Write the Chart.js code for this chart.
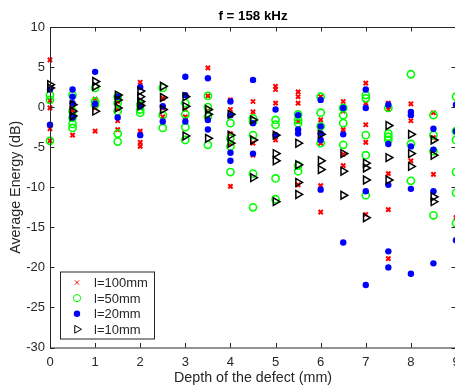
<!DOCTYPE html>
<html>
<head>
<meta charset="utf-8">
<script src="https://cdn.jsdelivr.net/npm/chart.js@4.4.1/dist/chart.umd.min.js"></script>
<style>
  html, body { margin: 0; padding: 0; background: #fff; overflow: hidden; }
  #wrap { width: 470px; height: 390px; }
</style>
</head>
<body>
<div id="wrap"><canvas id="chart" width="470" height="390"></canvas></div>
<script>
// depth of the defect (mm), one column of measurements per depth
const depths = [0, 0.5, 1, 1.5, 2, 2.5, 3, 3.5, 4, 4.5, 5, 5.5, 6, 6.5, 7, 7.5, 8, 8.5, 9];

// average energy (dB) read per depth, for each defect length
const l100 = [
    [5.9, 2.2, 0.8, -0.1, -2.7, -4.2], [2.2, 0.3, -0.4, -3.5], [1.0, -0.1, -3.0], [0.7, -0.2, -1.7, -2.8],
    [3.1, -0.1, -3.0, -4.4, -4.9], [1.1, -0.1, -1.2], [-0.3, -1.2], [4.9, 1.4, -0.5],
    [0.9, -0.3, -3.3, -4.5, -9.9], [0.7, -0.6, -4.5, -6.0], [2.6, 2.2, 0.5, -4.1], [1.9, 1.3, 0.5, -1.8, -9.7],
    [1.3, -1.6, -4.5, -9.8, -13.1], [0.7, -0.5, -2.8, -5.9, -7.3], [3.0, 0.5, -2.2, -4.4, -13.4],
    [0.5, -0.3, -8.3, -12.8, -18.9], [0.4, -1.7, -6.7], [-0.7, -3.8, -8.4], [-13.8]
];
const l50 = [
    [1.5, 0.9, -4.2], [1.5, -0.5, -1.3, -2.1, -2.6], [2.4, 0.7, 0.3], [1.3, 0.5, -0.5, -3.3, -4.3],
    [0.3, -0.3, -0.7], [2.4, -1.0, -2.6], [0.5, -0.9, -2.5, -4.1], [1.4, 0.0, -1.2, -4.7],
    [-2.0, -3.9, -4.9, -8.1], [-1.4, -1.8, -3.5, -8.3, -12.5], [-1.6, -2.2, -8.9, -11.5], [-0.9, -1.6, -2.0, -7.3, -8.0],
    [1.3, -0.7, -2.4, -4.5], [-0.1, -1.0, -2.0, -4.7], [1.5, 1.1, -3.5, -6.0, -11.0],
    [-0.1, -3.3, -3.7, -4.1], [4.1, -4.6, -9.2], [-1.0, -3.5, -5.5, -13.5], [1.3, -3.0, -4.1, -8.1, -10.7, -14.5]
];
const l20 = [
    [2.2, -2.2], [2.2, 1.3, 0.5, -1.3], [4.4, 0.4], [1.3, -1.3],
    [2.5, 0.1, -3.5], [0.1, -1.8], [3.8, 1.5, -1.8], [3.6, -1.6, -2.8],
    [0.7, -1.0, -5.7, -6.7], [3.4, -2.0, -5.8], [-0.3, -3.5], [-1.0, -2.8, -3.3],
    [0.9, -2.4, -3.3, -4.1, -10.3], [-0.1, -3.4, -16.9], [2.2, -0.1, -10.5, -22.2],
    [0.3, -4.6, -9.7, -18.0, -20.0], [-0.6, -1.0, -4.9, -10.2, -20.8], [-2.7, -5.3, -10.5, -19.5], [0.3, -3.0, -16.6]
];
const l10 = [
    [2.8, 2.4], [0.3, -0.5, -1.1], [3.2, 2.6, -0.5], [1.5, 0.9, -0.1],
    [2.0, 1.3, 0.7, 0.2], [2.6, 1.2, -0.3], [1.3, 0.1, -3.6], [-0.3, -0.9, -3.9],
    [-0.9, -3.5, -4.5], [-1.6, -4.1, -8.8], [-3.5, -5.8, -6.7, -11.8], [-4.5, -7.2, -9.4, -10.9],
    [-3.4, -6.7, -7.8], [-5.8, -8.0, -11.0], [-7.0, -7.6, -9.1, -13.8],
    [-2.3, -6.3, -9.1], [-3.4, -5.8, -7.4], [-4.1, -6.0, -11.2, -11.8], []
];

const seriesNames = ['l=100mm', 'l=50mm', 'l=20mm', 'l=10mm'];
const xTicks = [0, 1, 2, 3, 4, 5, 6, 7, 8, 9];
const yTicks = [-30, -25, -20, -15, -10, -5, 0, 5, 10];

const FONT = "'Liberation Sans', Arial, Helvetica, sans-serif";
const AXIS = '#262626';

function toPoints(series) {
    return series.flatMap((vals, i) => vals.map(v => ({ x: depths[i], y: v })));
}

// box round the axes, with inward ticks on all four sides
const matlabBox = {
    id: 'matlabBox',
    afterDraw(chart) {
        const { ctx, chartArea: a, scales: { x, y } } = chart;
        ctx.save();
        ctx.strokeStyle = AXIS;
        ctx.lineWidth = 1;
        ctx.strokeRect(a.left + 0.5, a.top + 0.5, a.right - a.left, a.bottom - a.top);
        ctx.beginPath();
        const tl = 4.5;
        xTicks.forEach(t => {
            const px = Math.round(x.getPixelForValue(t)) + 0.5;
            ctx.moveTo(px, a.bottom); ctx.lineTo(px, a.bottom - tl);
            ctx.moveTo(px, a.top); ctx.lineTo(px, a.top + tl);
        });
        yTicks.forEach(t => {
            const py = Math.round(y.getPixelForValue(t)) + 0.5;
            ctx.moveTo(a.left, py); ctx.lineTo(a.left + tl, py);
            ctx.moveTo(a.right, py); ctx.lineTo(a.right - tl, py);
        });
        ctx.stroke();

        // title over the axes
        ctx.fillStyle = '#000';
        ctx.font = 'bold 13.3px ' + FONT;
        ctx.textAlign = 'center';
        ctx.textBaseline = 'middle';
        ctx.fillText('f = 158 kHz', (a.left + a.right) / 2, a.top - 11);

        // legend box, lower left inside the axes
        const lx = a.left + 10, lw = 94, lh = 67, ly = a.bottom - 9 - lh;
        ctx.fillStyle = '#fff';
        ctx.fillRect(lx, ly, lw, lh);
        ctx.strokeStyle = AXIS;
        ctx.strokeRect(lx + 0.5, ly + 0.5, lw, lh);
        ctx.font = '13px ' + FONT;
        ctx.textAlign = 'left';
        chart.data.datasets.forEach((ds, i) => {
            const cy = ly + 11 + i * 15.6;
            ctx.strokeStyle = ds.pointBorderColor;
            ctx.fillStyle = ds.pointBackgroundColor;
            Chart.helpers.drawPoint(ctx, {
                pointStyle: ds.pointStyle,
                rotation: ds.pointRotation || 0,
                radius: ds.pointRadius,
                borderWidth: ds.pointBorderWidth
            }, lx + 17, cy);
            ctx.fillStyle = AXIS;
            ctx.fillText(ds.label, lx + 34, cy + 1);
        });
        ctx.restore();
    }
};

const ctx = document.getElementById('chart').getContext('2d');
new Chart(ctx, {
    type: 'scatter',
    data: {
        datasets: [
            {
                label: seriesNames[0], data: toPoints(l100), order: 3,
                pointStyle: 'crossRot', pointRadius: 3, pointBorderWidth: 2,
                pointBorderColor: '#ff0000', pointBackgroundColor: '#ff0000'
            },
            {
                label: seriesNames[1], data: toPoints(l50), order: 2,
                pointStyle: 'circle', pointRadius: 3.6, pointBorderWidth: 1.6,
                pointBorderColor: '#00ff00', pointBackgroundColor: 'rgba(0,0,0,0)'
            },
            {
                label: seriesNames[2], data: toPoints(l20), order: 1,
                pointStyle: 'circle', pointRadius: 3.2, pointBorderWidth: 0,
                pointBorderColor: '#0000ff', pointBackgroundColor: '#0000ff'
            },
            {
                label: seriesNames[3], data: toPoints(l10), order: 0,
                pointStyle: 'triangle', pointRotation: 90, pointRadius: 4.5, pointBorderWidth: 1.5,
                pointBorderColor: '#000000', pointBackgroundColor: 'rgba(0,0,0,0)'
            }
        ].map(ds => Object.assign(ds, { clip: false, pointHoverRadius: ds.pointRadius }))
    },
    options: {
        responsive: false,
        animation: false,
        layout: { padding: { top: 27, right: 14, left: 0, bottom: 0 } },
        plugins: {
            legend: { display: false },
            tooltip: { enabled: false },
            title: { display: false }
        },
        scales: {
            x: {
                type: 'linear',
                min: xTicks[0],
                max: xTicks[xTicks.length - 1],
                afterBuildTicks: s => { s.ticks = xTicks.map(v => ({ value: v })); },
                afterFit: s => { s.height = 42.5; },
                grid: { display: false, drawTicks: false },
                border: { display: false },
                ticks: { padding: 7, color: AXIS, font: { family: FONT, size: 13 }, maxRotation: 0 },
                title: {
                    display: true, text: 'Depth of the defect (mm)', color: AXIS,
                    font: { family: FONT, size: 14.3 }, padding: { top: 0, bottom: 3 }
                }
            },
            y: {
                type: 'linear',
                min: yTicks[0],
                max: yTicks[yTicks.length - 1],
                afterBuildTicks: s => { s.ticks = yTicks.map(v => ({ value: v })); },
                afterFit: s => { s.width = 50; },
                grid: { display: false, drawTicks: false },
                border: { display: false },
                ticks: { padding: 5, color: AXIS, font: { family: FONT, size: 13 } },
                title: {
                    display: true, text: 'Average Energy (dB)', color: AXIS,
                    font: { family: FONT, size: 14.3 }, padding: { top: 7, bottom: 0 }
                }
            }
        }
    },
    plugins: [matlabBox]
});
</script>
</body>
</html>
